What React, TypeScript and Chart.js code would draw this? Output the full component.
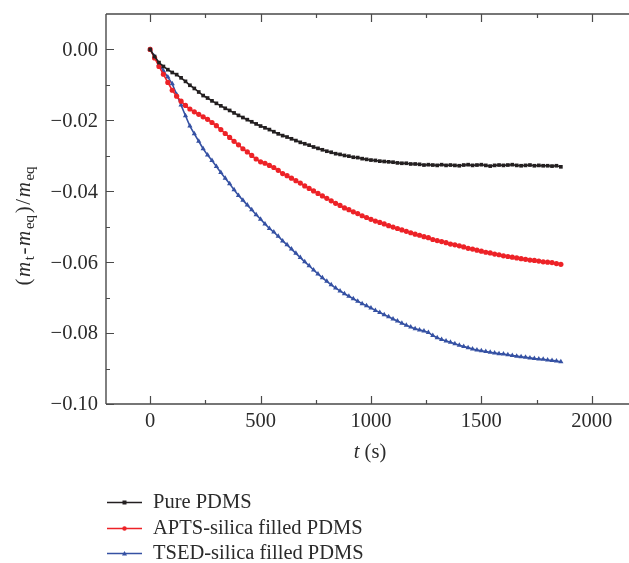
import React, { useEffect, useRef } from "react";
import { Chart, registerables } from "chart.js";

Chart.register(...registerables);

const times = [
  0, 20, 40, 60, 80, 100, 120, 140, 160, 180,
  200, 220, 240, 260, 280, 300, 320, 340, 360, 380,
  400, 420, 440, 460, 480, 500, 520, 540, 560, 580,
  600, 620, 640, 660, 680, 700, 720, 740, 760, 780,
  800, 820, 840, 860, 880, 900, 920, 940, 960, 980,
  1000, 1020, 1040, 1060, 1080, 1100, 1120, 1140, 1160, 1180,
  1200, 1220, 1240, 1260, 1280, 1300, 1320, 1340, 1360, 1380,
  1400, 1420, 1440, 1460, 1480, 1500, 1520, 1540, 1560, 1580,
  1600, 1620, 1640, 1660, 1680, 1700, 1720, 1740, 1760, 1780,
  1800, 1820, 1840, 1860,
];

const purePDMS = [
  0, -0.0020, -0.0037, -0.0048, -0.0057, -0.0065, -0.0071, -0.0080, -0.0090, -0.0101,
  -0.0110, -0.0120, -0.0130, -0.0137, -0.0145, -0.0152, -0.0159, -0.0166, -0.0172, -0.0179,
  -0.0186, -0.0192, -0.0198, -0.0204, -0.0210, -0.0216, -0.0221, -0.0226, -0.0232, -0.0238,
  -0.0243, -0.0247, -0.0252, -0.0257, -0.0262, -0.0266, -0.0270, -0.0275, -0.0279, -0.0283,
  -0.0287, -0.0290, -0.0294, -0.0296, -0.0299, -0.0301, -0.0304, -0.0305, -0.0308, -0.0310,
  -0.0312, -0.0313, -0.0315, -0.0316, -0.0317, -0.0318, -0.0320, -0.0321, -0.0321, -0.0323,
  -0.0323, -0.0324, -0.0326, -0.0325, -0.0326, -0.0327, -0.0325, -0.0327, -0.0326, -0.0327,
  -0.0328, -0.0326, -0.0325, -0.0327, -0.0326, -0.0325, -0.0327, -0.0329, -0.0327, -0.0326,
  -0.0327, -0.0326, -0.0325, -0.0327, -0.0328, -0.0327, -0.0326, -0.0328, -0.0327, -0.0328,
  -0.0328, -0.0329, -0.0328, -0.0331,
];

const aptsPDMS = [
  0, -0.0024, -0.0048, -0.0070, -0.0093, -0.0115, -0.0132, -0.0146, -0.0158, -0.0168,
  -0.0176, -0.0183, -0.0190, -0.0197, -0.0206, -0.0215, -0.0226, -0.0237, -0.0248, -0.0259,
  -0.0269, -0.0280, -0.0289, -0.0299, -0.0309, -0.0317, -0.0321, -0.0327, -0.0333, -0.0341,
  -0.0350, -0.0356, -0.0363, -0.0370, -0.0377, -0.0385, -0.0392, -0.0399, -0.0406, -0.0413,
  -0.0420, -0.0427, -0.0434, -0.0440, -0.0447, -0.0452, -0.0458, -0.0463, -0.0469, -0.0474,
  -0.0479, -0.0484, -0.0488, -0.0492, -0.0497, -0.0501, -0.0505, -0.0509, -0.0513, -0.0517,
  -0.0521, -0.0524, -0.0528, -0.0531, -0.0536, -0.0539, -0.0542, -0.0545, -0.0549, -0.0551,
  -0.0554, -0.0557, -0.0561, -0.0563, -0.0566, -0.0569, -0.0572, -0.0574, -0.0577, -0.0579,
  -0.0582, -0.0584, -0.0586, -0.0588, -0.0590, -0.0592, -0.0594, -0.0595, -0.0597, -0.0599,
  -0.0600, -0.0601, -0.0604, -0.0606,
];

const tsedPDMS = [
  0, -0.0020, -0.0042, -0.0060, -0.0078, -0.0097, -0.0127, -0.0157, -0.0187, -0.0216,
  -0.0238, -0.0259, -0.0280, -0.0298, -0.0313, -0.0330, -0.0347, -0.0363, -0.0379, -0.0396,
  -0.0412, -0.0425, -0.0439, -0.0452, -0.0466, -0.0479, -0.0492, -0.0505, -0.0515, -0.0527,
  -0.0540, -0.0551, -0.0563, -0.0575, -0.0587, -0.0599, -0.0610, -0.0622, -0.0633, -0.0644,
  -0.0654, -0.0664, -0.0673, -0.0681, -0.0689, -0.0696, -0.0703, -0.0710, -0.0717, -0.0723,
  -0.0729, -0.0736, -0.0742, -0.0748, -0.0754, -0.0760, -0.0766, -0.0772, -0.0778, -0.0783,
  -0.0788, -0.0791, -0.0794, -0.0798, -0.0807, -0.0813, -0.0818, -0.0822, -0.0826, -0.0830,
  -0.0834, -0.0838, -0.0841, -0.0845, -0.0848, -0.0850, -0.0852, -0.0854, -0.0856, -0.0858,
  -0.0859, -0.0861, -0.0863, -0.0865, -0.0867, -0.0868, -0.0870, -0.0872, -0.0873, -0.0874,
  -0.0876, -0.0877, -0.0879, -0.0881,
];

const seriesLabels = ["Pure PDMS", "APTS-silica filled PDMS", "TSED-silica filled PDMS"];
const xTickValues = [0, 500, 1000, 1500, 2000];
const xMinorValues = [250, 750, 1250, 1750];
const yTickValues = [0, -0.02, -0.04, -0.06, -0.08, -0.1];
const yMinorValues = [-0.01, -0.03, -0.05, -0.07, -0.09];
const yTickLabels = ["0.00", "\u22120.02", "\u22120.04", "\u22120.06", "\u22120.08", "\u22120.10"];

const COLORS = ["#231f20", "#ed2227", "#3551a3"];
const STYLES = ["rect", "circle", "triangle"];
const SERIF = "'Liberation Serif', 'DejaVu Serif', serif";
const TEXT = "#2b2b2b";

const toPoints = (vals: number[]) => vals.map((v, i) => ({ x: times[i], y: v }));

const decorPlugin = {
  id: "decor",
  afterDraw(chart: any) {
    const { ctx, chartArea: a, scales } = chart;
    const xs = scales.x;
    const ys = scales.y;
    const W = chart.width;
    ctx.save();
    ctx.strokeStyle = "#4a4a4a";
    ctx.lineWidth = 1.4;
    ctx.beginPath();
    ctx.moveTo(a.left, a.top);
    ctx.lineTo(a.left, a.bottom);
    ctx.moveTo(a.left, a.top);
    ctx.lineTo(W, a.top);
    ctx.moveTo(a.left, a.bottom);
    ctx.lineTo(W, a.bottom);
    ctx.stroke();
    ctx.lineWidth = 1.2;
    ctx.beginPath();
    xTickValues.forEach((v) => {
      const px = Math.round(xs.getPixelForValue(v)) + 0.5;
      ctx.moveTo(px, a.bottom);
      ctx.lineTo(px, a.bottom - 8);
      ctx.moveTo(px, a.top);
      ctx.lineTo(px, a.top + 8);
    });
    xMinorValues.forEach((v) => {
      const px = Math.round(xs.getPixelForValue(v)) + 0.5;
      ctx.moveTo(px, a.bottom);
      ctx.lineTo(px, a.bottom - 4);
      ctx.moveTo(px, a.top);
      ctx.lineTo(px, a.top + 4);
    });
    yTickValues.forEach((v) => {
      const py = Math.round(ys.getPixelForValue(v)) + 0.5;
      ctx.moveTo(a.left, py);
      ctx.lineTo(a.left + 8, py);
    });
    yMinorValues.forEach((v) => {
      const py = Math.round(ys.getPixelForValue(v)) + 0.5;
      ctx.moveTo(a.left, py);
      ctx.lineTo(a.left + 4, py);
    });
    ctx.stroke();

    ctx.fillStyle = TEXT;
    ctx.font = `20.5px ${SERIF}`;
    ctx.textAlign = "right";
    ctx.textBaseline = "middle";
    yTickValues.forEach((v, i) => {
      ctx.fillText(yTickLabels[i], a.left - 8, ys.getPixelForValue(v) + 1);
    });
    ctx.textAlign = "center";
    xTickValues.forEach((v) => {
      ctx.fillText(String(v), xs.getPixelForValue(v), a.bottom + 18);
    });

    // x title: t (s)
    ctx.textAlign = "left";
    ctx.textBaseline = "middle";
    const tPart = "t";
    const sPart = " (s)";
    ctx.font = `italic 20.5px ${SERIF}`;
    const tw = ctx.measureText(tPart).width;
    ctx.font = `20.5px ${SERIF}`;
    const sw = ctx.measureText(sPart).width;
    const x0 = 370 - (tw + sw) / 2;
    ctx.font = `italic 20.5px ${SERIF}`;
    ctx.fillText(tPart, x0, 453);
    ctx.font = `20.5px ${SERIF}`;
    ctx.fillText(sPart, x0 + tw, 453);

    // y title: (m_t-m_eq)/m_eq rotated
    const parts: Array<[string, string]> = [
      ["(", "n"],
      ["m", "i"],
      ["t", "s"],
      ["-", "n"],
      ["m", "i"],
      ["eq", "s"],
      [")", "n"],
      ["/", "n"],
      ["m", "i"],
      ["eq", "s"],
    ];
    const fontFor = (k: string) =>
      k === "i" ? `italic 21px ${SERIF}` : k === "s" ? `15px ${SERIF}` : `21px ${SERIF}`;
    const gap = 1.6;
    const widths: number[] = [];
    let total = 0;
    parts.forEach((p) => {
      ctx.font = fontFor(p[1]);
      const w = ctx.measureText(p[0]).width;
      widths.push(w);
      total += w;
    });
    total += gap * (parts.length - 1);
    ctx.save();
    ctx.translate(23, 226);
    ctx.rotate(-Math.PI / 2);
    let px = -total / 2;
    ctx.textBaseline = "alphabetic";
    parts.forEach((p, i) => {
      ctx.font = fontFor(p[1]);
      const dy = p[1] === "s" ? 11 : 7;
      ctx.fillText(p[0], px, dy);
      px += widths[i] + gap;
    });
    ctx.restore();

    // legend
    const rows = [502, 528, 553];
    chart.data.datasets.forEach((ds: any, i: number) => {
      const y = rows[i];
      ctx.strokeStyle = COLORS[i];
      ctx.lineWidth = 1.4;
      ctx.beginPath();
      ctx.moveTo(107, y + 0.5);
      ctx.lineTo(142, y + 0.5);
      ctx.stroke();
      ctx.fillStyle = COLORS[i];
      const mx = 124.5;
      if (STYLES[i] === "rect") {
        ctx.fillRect(mx - 2, y - 1.5, 4, 4);
      } else if (STYLES[i] === "circle") {
        ctx.beginPath();
        ctx.arc(mx, y + 0.5, 2.2, 0, Math.PI * 2);
        ctx.fill();
      } else {
        ctx.beginPath();
        ctx.moveTo(mx, y - 2);
        ctx.lineTo(mx + 2.5, y + 2.5);
        ctx.lineTo(mx - 2.5, y + 2.5);
        ctx.closePath();
        ctx.fill();
      }
      ctx.fillStyle = TEXT;
      ctx.font = `20.5px ${SERIF}`;
      ctx.textAlign = "left";
      ctx.textBaseline = "middle";
      ctx.fillText(ds.label, 153, y + 1);
    });
    ctx.restore();
  },
};

export default function App() {
  const ref = useRef<HTMLCanvasElement | null>(null);
  useEffect(() => {
    document.body.style.margin = "0";
    if (!ref.current) return;
    const datasets = [purePDMS, aptsPDMS, tsedPDMS].map((vals, i) => ({
      label: seriesLabels[i],
      data: toPoints(vals),
      borderColor: COLORS[i],
      backgroundColor: COLORS[i],
      borderWidth: 1.6,
      pointStyle: STYLES[i] as any,
      pointRadius: i === 2 ? 3 : 2.6,
      pointBorderWidth: 0,
      pointHoverRadius: 2.6,
      tension: 0,
    }));
    const chart = new Chart(ref.current, {
      type: "line",
      data: { datasets },
      options: {
        animation: false,
        responsive: false,
        maintainAspectRatio: false,
        events: [],
        layout: { padding: { left: 106, top: 14, right: 0, bottom: 159 } },
        plugins: { legend: { display: false }, tooltip: { enabled: false } },
        scales: {
          x: { type: "linear", min: -200, max: 2155, display: false },
          y: { type: "linear", min: -0.1, max: 0.01, display: false },
        },
      },
      plugins: [decorPlugin],
    });
    return () => chart.destroy();
  }, []);
  return <canvas ref={ref} width={629} height={563} style={{ display: "block" }} />;
}
